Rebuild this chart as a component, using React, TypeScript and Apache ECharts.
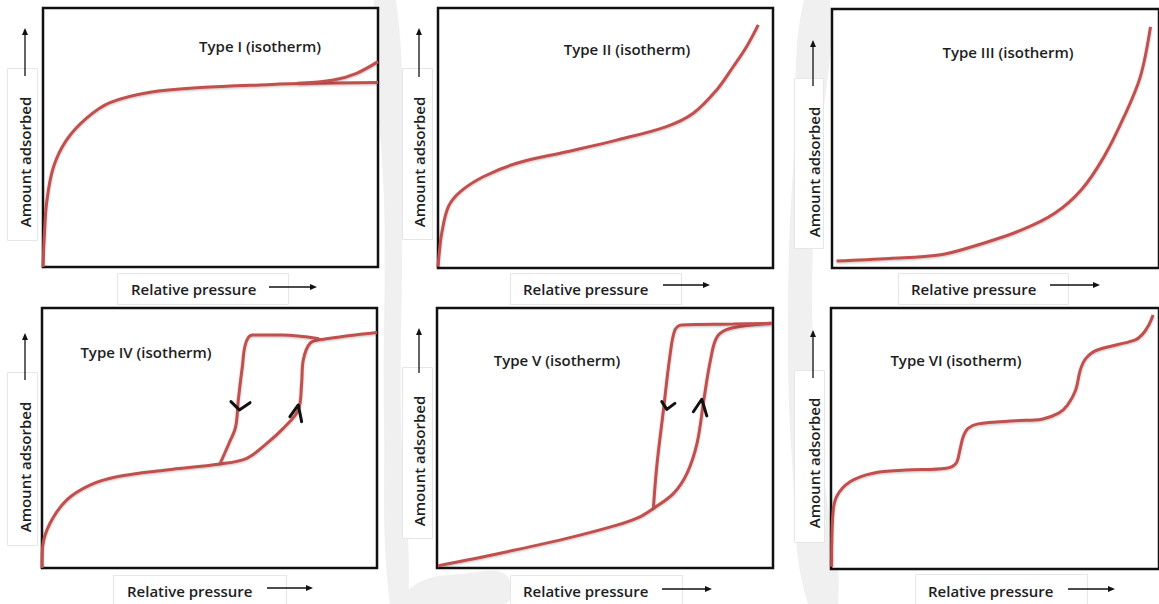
import React, { useEffect, useRef } from "react";
import * as echarts from "echarts";

// ---- Isotherm curves (x: relative pressure 0-100, y: amount adsorbed 0-100) ----
const typeI: number[][] = [
  [0, 0], [0.4, 12], [1.1, 25], [3.1, 38.5], [7, 49], [13, 57.5], [20, 63.5],
  [32, 67.5], [47, 69.3], [67, 70.4], [80, 70.9], [100, 71.2],
];
const typeIUpper: number[][] = [
  [76, 70.9], [86.7, 72.2], [93.6, 74.8], [100, 79.3],
];
const typeII: number[][] = [
  [0, 0.5], [0.4, 6], [1.1, 13.3], [3.1, 23.6], [6.6, 29.3], [13.5, 35.1],
  [23.5, 40.3], [38.4, 44.7], [53.3, 49.2], [68.2, 54.4], [76.2, 59.5],
  [83.2, 68.5], [88.1, 77.4], [92.1, 85.1], [95.6, 93.5],
];
const typeIII: number[][] = [
  [1.4, 2.7], [17.6, 3.7], [32.7, 5], [42.8, 8.2], [58, 14.7], [68.1, 21.1],
  [76.2, 30.1], [83.2, 43], [89.3, 58.4], [94.3, 73.9], [97.4, 93.1],
];
const typeIVAdsorption: number[][] = [
  [0, 0], [0.2, 8.2], [2.4, 17.2], [7.4, 26.2], [14.3, 31.9], [22.3, 35.1],
  [37.2, 37.7], [53.1, 40], [61.1, 42.2], [67.1, 47.9], [72, 53.7],
  [76.5, 60.8], [77.5, 71], [78, 80], [80, 86.4], [84, 88], [100, 90.6],
];
const typeIVDesorption: number[][] = [
  [53.1, 40], [55.8, 47.9], [57.8, 54.3], [58.6, 64.6], [59.8, 77.4],
  [60.8, 86.4], [62.8, 89.6], [71.7, 89.6], [82.7, 88.2],
];
const typeVAdsorption: number[][] = [
  [0.4, 0.9], [18.8, 5.7], [38.6, 11.4], [53.5, 16.5], [60.4, 19.7],
  [64.4, 22.9], [70.4, 28.7], [74.4, 36.4], [77.4, 48], [79.4, 64.6],
  [81.4, 80], [83.4, 89], [87.5, 92.2], [99.6, 94.1],
];
const typeVDesorption: number[][] = [
  [64.4, 22.9], [65.4, 39], [67.4, 60.8], [69.3, 81.3], [70.8, 91.5],
  [72.8, 93.5], [88.1, 93.8], [99.6, 94.1],
];
const typeVI: number[][] = [
  [0.2, 0.9], [0.5, 20], [1.7, 27.7], [5.8, 33.4], [12.8, 36.7], [22.9, 37.9],
  [35.1, 38.6], [38.1, 40.5], [39.3, 45.6], [40.3, 50.7], [41.8, 53.9],
  [44.8, 55.6], [56.3, 56.8], [64.3, 57.4], [69.4, 59.7], [72.1, 62.8],
  [74.6, 68.6], [76, 76.2], [77.7, 80.7], [81.2, 83.9], [92.6, 87.7],
  [94.8, 89.7], [96.9, 93.5], [98.2, 97.3],
];

// Direction chevrons on the hysteresis loops
const typeIVDownMark: number[][] = [[56.4, 64], [58.9, 60.8], [62.1, 63.6]];
const typeIVUpMark: number[][] = [[74, 58.2], [76.5, 62.7], [77.5, 56.3]];
const typeVDownMark: number[][] = [[66.9, 64], [68.4, 61], [70.8, 63.3]];
const typeVUpMark: number[][] = [[76.3, 60.1], [78.8, 64.9], [80.3, 58.5]];

const panelTitles = [
  "Type I (isotherm)",
  "Type II (isotherm)",
  "Type III (isotherm)",
  "Type IV (isotherm)",
  "Type V (isotherm)",
  "Type VI (isotherm)",
];
const yAxisLabel = "Amount adsorbed";
const xAxisLabel = "Relative pressure";

// ---- Layout (pixels) ----
type Panel = {
  box: [number, number, number, number]; // left, top, width, height
  title: [number, number];
  vBox: [number, number, number, number];
  vText: [number, number];
  upArrow: [number, number, number]; // x, yBottom, yTip
  hBox: [number, number, number, number];
  hTextX: number;
  hTextY: number;
  rightArrow: [number, number, number]; // xStart, xTip, y
};

const panels: Panel[] = [
  {
    box: [43, 8, 335, 259], title: [260, 46],
    vBox: [7, 68, 30, 172], vText: [25, 162], upArrow: [25, 76, 28],
    hBox: [117, 273, 171, 31], hTextX: 131, hTextY: 289, rightArrow: [269, 317, 287],
  },
  {
    box: [438, 8, 335, 260], title: [627, 49],
    vBox: [402, 68, 30, 171], vText: [419, 162], upArrow: [419, 77, 28],
    hBox: [510, 273, 171, 31], hTextX: 523, hTextY: 289, rightArrow: [663, 710, 285],
  },
  {
    box: [832, 9, 330, 259], title: [1008, 52],
    vBox: [794, 78, 29, 170], vText: [814, 172], upArrow: [813, 86, 40],
    hBox: [898, 273, 170, 31], hTextX: 911, hTextY: 289, rightArrow: [1050, 1100, 285],
  },
  {
    box: [42, 308, 335, 260], title: [146, 352],
    vBox: [7, 372, 30, 173], vText: [25, 467], upArrow: [25, 380, 333],
    hBox: [113, 575, 173, 32], hTextX: 127, hTextY: 591, rightArrow: [267, 313, 588],
  },
  {
    box: [437, 308, 336, 260], title: [557, 360],
    vBox: [402, 367, 30, 171], vText: [419, 461], upArrow: [419, 373, 328],
    hBox: [510, 575, 172, 32], hTextX: 523, hTextY: 591, rightArrow: [662, 712, 589],
  },
  {
    box: [831, 308, 330, 261], title: [956, 360],
    vBox: [794, 370, 30, 172], vText: [814, 463], upArrow: [813, 378, 330],
    hBox: [915, 574, 172, 32], hTextX: 928, hTextY: 591, rightArrow: [1068, 1115, 589],
  },
];

const curveColor = "#c0504d";
const textColor = "#1e1e1e";
const FONT = '"Open Sans", "Liberation Sans", sans-serif';
const LABEL_FONT = `600 15px ${FONT}`;

function curve(data: number[][], idx: number) {
  return {
    type: "line",
    xAxisIndex: idx,
    yAxisIndex: idx,
    data,
    smooth: 0.35,
    showSymbol: false,
    symbol: "none",
    silent: true,
    clip: false,
    z: 3,
    lineStyle: {
      color: curveColor,
      width: 3,
      shadowColor: "rgba(0,0,0,0.25)",
      shadowBlur: 2,
      shadowOffsetY: 1,
    },
  };
}

function chevron(data: number[][], idx: number) {
  return {
    type: "line",
    xAxisIndex: idx,
    yAxisIndex: idx,
    data,
    smooth: false,
    showSymbol: false,
    symbol: "none",
    silent: true,
    clip: false,
    z: 4,
    lineStyle: { color: "#111", width: 3, cap: "round", join: "round" },
  };
}

function buildGraphics() {
  const els: any[] = [];
  // faint watermark bands behind the panels
  const band = (points: number[][]) => ({
    type: "polygon",
    z: -10,
    silent: true,
    shape: { points, smooth: 0.4 },
    style: { fill: "#f0f0f0" },
  });
  els.push(band([[374, 0], [396, 0], [402, 200], [401, 420], [408, 604], [390, 604], [384, 420], [384, 200]]));
  els.push(band([[804, 0], [830, 0], [820, 150], [812, 300], [822, 460], [838, 604], [808, 604], [792, 460], [788, 300], [794, 150]]));
  els.push(band([[400, 604], [420, 582], [460, 574], [505, 574], [505, 604]]));

  panels.forEach((p, i) => {
    // vertical label box
    els.push({
      type: "rect", z: 1, silent: true,
      shape: { x: p.vBox[0] + 0.5, y: p.vBox[1] + 0.5, width: p.vBox[2], height: p.vBox[3] },
      style: { fill: "#fff", stroke: "#e6e6e6", lineWidth: 1 },
    });
    els.push({
      type: "text", z: 2, silent: true,
      x: p.vText[0], y: p.vText[1], rotation: Math.PI / 2,
      style: {
        text: yAxisLabel, font: LABEL_FONT, fill: textColor,
        align: "center", verticalAlign: "middle",
      },
    });
    // up arrow
    const [ax, ay0, ay1] = p.upArrow;
    els.push({
      type: "line", z: 2, silent: true,
      shape: { x1: ax, y1: ay0, x2: ax, y2: ay1 + 5 },
      style: { stroke: "#111", lineWidth: 1.3 },
    });
    els.push({
      type: "polygon", z: 2, silent: true,
      shape: { points: [[ax - 3, ay1 + 7], [ax + 3, ay1 + 7], [ax, ay1]] },
      style: { fill: "#111" },
    });
    // horizontal label box
    els.push({
      type: "rect", z: 1, silent: true,
      shape: { x: p.hBox[0] + 0.5, y: p.hBox[1] + 0.5, width: p.hBox[2], height: p.hBox[3] },
      style: { fill: "#fff", stroke: "#e6e6e6", lineWidth: 1 },
    });
    els.push({
      type: "text", z: 2, silent: true,
      x: p.hTextX, y: p.hTextY,
      style: {
        text: xAxisLabel, font: LABEL_FONT, fill: textColor,
        align: "left", verticalAlign: "middle",
      },
    });
    // right arrow
    const [rx0, rx1, ry] = p.rightArrow;
    els.push({
      type: "line", z: 2, silent: true,
      shape: { x1: rx0, y1: ry, x2: rx1 - 5, y2: ry },
      style: { stroke: "#111", lineWidth: 1.3 },
    });
    els.push({
      type: "polygon", z: 2, silent: true,
      shape: { points: [[rx1 - 7, ry - 3], [rx1 - 7, ry + 3], [rx1, ry]] },
      style: { fill: "#111" },
    });
    // panel title
    els.push({
      type: "text", z: 5, silent: true,
      x: p.title[0], y: p.title[1],
      style: {
        text: panelTitles[i], font: LABEL_FONT, fill: textColor,
        align: "center", verticalAlign: "middle",
      },
    });
  });
  return els;
}

export default function App() {
  const ref = useRef<HTMLDivElement>(null);

  useEffect(() => {
    if (!ref.current) return;
    const chart = echarts.init(ref.current, undefined, { renderer: "svg" });

    const grids = panels.map((p) => ({
      left: p.box[0],
      top: p.box[1],
      width: p.box[2],
      height: p.box[3],
      show: true,
      borderColor: "#111",
      borderWidth: 2.5,
      backgroundColor: "#fff",
      containLabel: false,
      z: 0,
    }));
    const axisBase = {
      type: "value",
      min: 0,
      max: 100,
      show: false,
      splitLine: { show: false },
    };
    const xAxes = panels.map((_, i) => ({ ...axisBase, gridIndex: i }));
    const yAxes = panels.map((_, i) => ({ ...axisBase, gridIndex: i }));

    const series = [
      curve(typeI, 0),
      curve(typeIUpper, 0),
      curve(typeII, 1),
      curve(typeIII, 2),
      curve(typeIVAdsorption, 3),
      curve(typeIVDesorption, 3),
      chevron(typeIVDownMark, 3),
      chevron(typeIVUpMark, 3),
      curve(typeVAdsorption, 4),
      curve(typeVDesorption, 4),
      chevron(typeVDownMark, 4),
      chevron(typeVUpMark, 4),
      curve(typeVI, 5),
    ];

    chart.setOption({
      animation: false,
      backgroundColor: "#fff",
      grid: grids,
      xAxis: xAxes,
      yAxis: yAxes,
      series,
      graphic: { elements: buildGraphics() },
    });

    return () => chart.dispose();
  }, []);

  return (
    <div
      ref={ref}
      style={{ position: "fixed", left: 0, top: 0, width: 1159, height: 604, background: "#fff" }}
    />
  );
}
